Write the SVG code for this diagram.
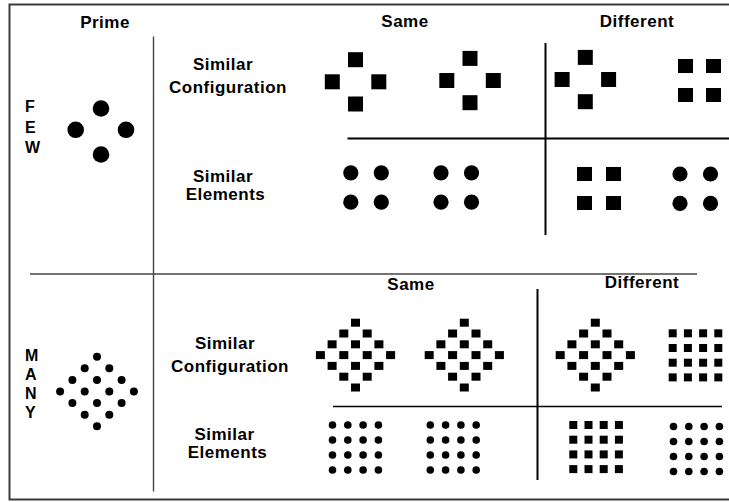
<svg xmlns="http://www.w3.org/2000/svg" xmlns:xlink="http://www.w3.org/1999/xlink" width="729" height="502" viewBox="0 0 729 502">
<style>
text{font-family:"Liberation Sans",Arial,sans-serif;font-weight:bold;font-size:17px;fill:#000;letter-spacing:0.5px}
.c{text-anchor:middle}
.v{font-size:16px}
.frame{fill:none;stroke:#3a3a3a;stroke-width:2}
.thin{fill:none;stroke:#444;stroke-width:1.4}
.bold{fill:none;stroke:#000;stroke-width:2}
.mid{fill:none;stroke:#000;stroke-width:1.6}
rect,circle{fill:#000}
</style>
<defs>
<g id="fewdia">
<rect x="-7.5" y="-29.6" width="15" height="15"/>
<rect x="-30.7" y="-7.5" width="15" height="15"/>
<rect x="15.8" y="-7.5" width="15" height="15"/>
<rect x="-7.5" y="14.7" width="15" height="15"/>
</g>
<g id="fewcirc">
<circle cx="0" cy="0" r="7.6"/>
<circle cx="30.5" cy="0" r="7.6"/>
<circle cx="0" cy="29.4" r="7.6"/>
<circle cx="30.5" cy="29.4" r="7.6"/>
</g>
<g id="mdia">
<rect x="-4.5" y="-4" width="9" height="8"/>
<rect x="7.2" y="6.8" width="9" height="8"/>
<rect x="-16.2" y="6.8" width="9" height="8"/>
<rect x="18.9" y="17.6" width="9" height="8"/>
<rect x="-4.5" y="17.6" width="9" height="8"/>
<rect x="-27.9" y="17.6" width="9" height="8"/>
<rect x="30.6" y="28.4" width="9" height="8"/>
<rect x="7.2" y="28.4" width="9" height="8"/>
<rect x="-16.2" y="28.4" width="9" height="8"/>
<rect x="-39.6" y="28.4" width="9" height="8"/>
<rect x="18.9" y="39.2" width="9" height="8"/>
<rect x="-4.5" y="39.2" width="9" height="8"/>
<rect x="-27.9" y="39.2" width="9" height="8"/>
<rect x="7.2" y="50" width="9" height="8"/>
<rect x="-16.2" y="50" width="9" height="8"/>
<rect x="-4.5" y="60.8" width="9" height="8"/>
</g>
<g id="mcirc">
<circle cx="0" cy="0" r="3.8"/><circle cx="15.3" cy="0" r="3.8"/><circle cx="30.6" cy="0" r="3.8"/><circle cx="45.9" cy="0" r="3.8"/>
<circle cx="0" cy="15" r="3.8"/><circle cx="15.3" cy="15" r="3.8"/><circle cx="30.6" cy="15" r="3.8"/><circle cx="45.9" cy="15" r="3.8"/>
<circle cx="0" cy="30" r="3.8"/><circle cx="15.3" cy="30" r="3.8"/><circle cx="30.6" cy="30" r="3.8"/><circle cx="45.9" cy="30" r="3.8"/>
<circle cx="0" cy="45" r="3.8"/><circle cx="15.3" cy="45" r="3.8"/><circle cx="30.6" cy="45" r="3.8"/><circle cx="45.9" cy="45" r="3.8"/>
</g>
<g id="msq">
<rect x="-4" y="-4" width="8" height="8"/><rect x="11.2" y="-4" width="8" height="8"/><rect x="26.4" y="-4" width="8" height="8"/><rect x="41.6" y="-4" width="8" height="8"/>
<rect x="-4" y="10.7" width="8" height="8"/><rect x="11.2" y="10.7" width="8" height="8"/><rect x="26.4" y="10.7" width="8" height="8"/><rect x="41.6" y="10.7" width="8" height="8"/>
<rect x="-4" y="25.4" width="8" height="8"/><rect x="11.2" y="25.4" width="8" height="8"/><rect x="26.4" y="25.4" width="8" height="8"/><rect x="41.6" y="25.4" width="8" height="8"/>
<rect x="-4" y="40.1" width="8" height="8"/><rect x="11.2" y="40.1" width="8" height="8"/><rect x="26.4" y="40.1" width="8" height="8"/><rect x="41.6" y="40.1" width="8" height="8"/>
</g>
</defs>
<rect width="729" height="502" style="fill:#fff"/>

<g id="connectors">
<path class="frame" d="M740 4.5H9.5V499.5H740"/>
<path class="thin" d="M153.5 36.5V491.5"/>
<path class="thin" d="M30 274H697"/>
<path class="bold" d="M347.5 138.5H729"/>
<path class="bold" d="M545.5 43V235"/>
<path class="bold" d="M537.5 289V480"/>
<path class="mid" d="M333 406.5H722"/>
</g>

<g id="headers">
<text class="c" x="105" y="28">Prime</text>
<text class="c" x="405" y="27">Same</text>
<text class="c" x="637" y="27">Different</text>
<text class="c" x="411" y="290">Same</text>
<text class="c" x="642" y="288">Different</text>
</g>

<g id="few-label">
<text class="v" x="25" y="111.5">F</text>
<text class="v" x="25" y="133">E</text>
<text class="v" x="25" y="153">W</text>
</g>
<g id="many-label">
<text class="v" x="25" y="361">M</text>
<text class="v" x="25" y="380">A</text>
<text class="v" x="25" y="399">N</text>
<text class="v" x="25" y="418">Y</text>
</g>

<g id="row-labels">
<text class="c" x="223" y="70">Similar</text>
<text class="c" x="228" y="92.5">Configuration</text>
<text class="c" x="223" y="181.5">Similar</text>
<text class="c" x="225.5" y="200">Elements</text>
<text class="c" x="225" y="349">Similar</text>
<text class="c" x="230" y="371.5">Configuration</text>
<text class="c" x="224.5" y="440">Similar</text>
<text class="c" x="227.5" y="457.5">Elements</text>
</g>

<g id="few-prime">
<circle cx="101" cy="108.5" r="8.3"/>
<circle cx="75.7" cy="129.8" r="8.3"/>
<circle cx="126" cy="129.8" r="8.3"/>
<circle cx="101" cy="154.5" r="8.3"/>
</g>
<g id="few-config-same-1"><use xlink:href="#fewdia" x="355.5" y="81.8"/></g>
<g id="few-config-same-2"><use xlink:href="#fewdia" x="470" y="80.5"/></g>
<g id="few-config-diff-1"><use xlink:href="#fewdia" x="585.3" y="79.5"/></g>
<g id="few-config-diff-2">
<rect x="678" y="59" width="15" height="14"/>
<rect x="706" y="59" width="15" height="14"/>
<rect x="678" y="88" width="15" height="14"/>
<rect x="706" y="88" width="15" height="14"/>
</g>
<g id="few-elem-same-1"><use xlink:href="#fewcirc" x="350.8" y="172.8"/></g>
<g id="few-elem-same-2"><use xlink:href="#fewcirc" x="441" y="172.8"/></g>
<g id="few-elem-diff-1">
<rect x="577" y="167" width="15" height="14"/>
<rect x="606" y="167" width="15" height="14"/>
<rect x="577" y="196" width="15" height="14"/>
<rect x="606" y="196" width="15" height="14"/>
</g>
<g id="few-elem-diff-2"><use xlink:href="#fewcirc" x="680" y="174"/></g>

<g id="many-prime">
<circle cx="97" cy="356.7" r="4"/>
<circle cx="84.7" cy="368.3" r="4"/><circle cx="109.3" cy="368.3" r="4"/>
<circle cx="72.4" cy="379.9" r="4"/><circle cx="97" cy="379.9" r="4"/><circle cx="121.6" cy="379.9" r="4"/>
<circle cx="60.1" cy="391.5" r="4"/><circle cx="84.7" cy="391.5" r="4"/><circle cx="109.3" cy="391.5" r="4"/><circle cx="133.9" cy="391.5" r="4"/>
<circle cx="72.4" cy="403.1" r="4"/><circle cx="97" cy="403.1" r="4"/><circle cx="121.6" cy="403.1" r="4"/>
<circle cx="84.7" cy="414.7" r="4"/><circle cx="109.3" cy="414.7" r="4"/>
<circle cx="97" cy="426.3" r="4"/>
</g>
<g id="many-config-same-1"><use xlink:href="#mdia" x="355.5" y="322.7"/></g>
<g id="many-config-same-2"><use xlink:href="#mdia" x="464.3" y="322.7"/></g>
<g id="many-config-diff-1"><use xlink:href="#mdia" x="595.3" y="322.7"/></g>
<g id="many-config-diff-2"><use xlink:href="#msq" x="672.7" y="333.3"/></g>
<g id="many-elem-same-1"><use xlink:href="#mcirc" x="332.5" y="425"/></g>
<g id="many-elem-same-2"><use xlink:href="#mcirc" x="430.3" y="425"/></g>
<g id="many-elem-diff-1"><use xlink:href="#msq" x="573.3" y="425"/></g>
<g id="many-elem-diff-2"><use xlink:href="#mcirc" x="673.5" y="426.5"/></g>
</svg>
